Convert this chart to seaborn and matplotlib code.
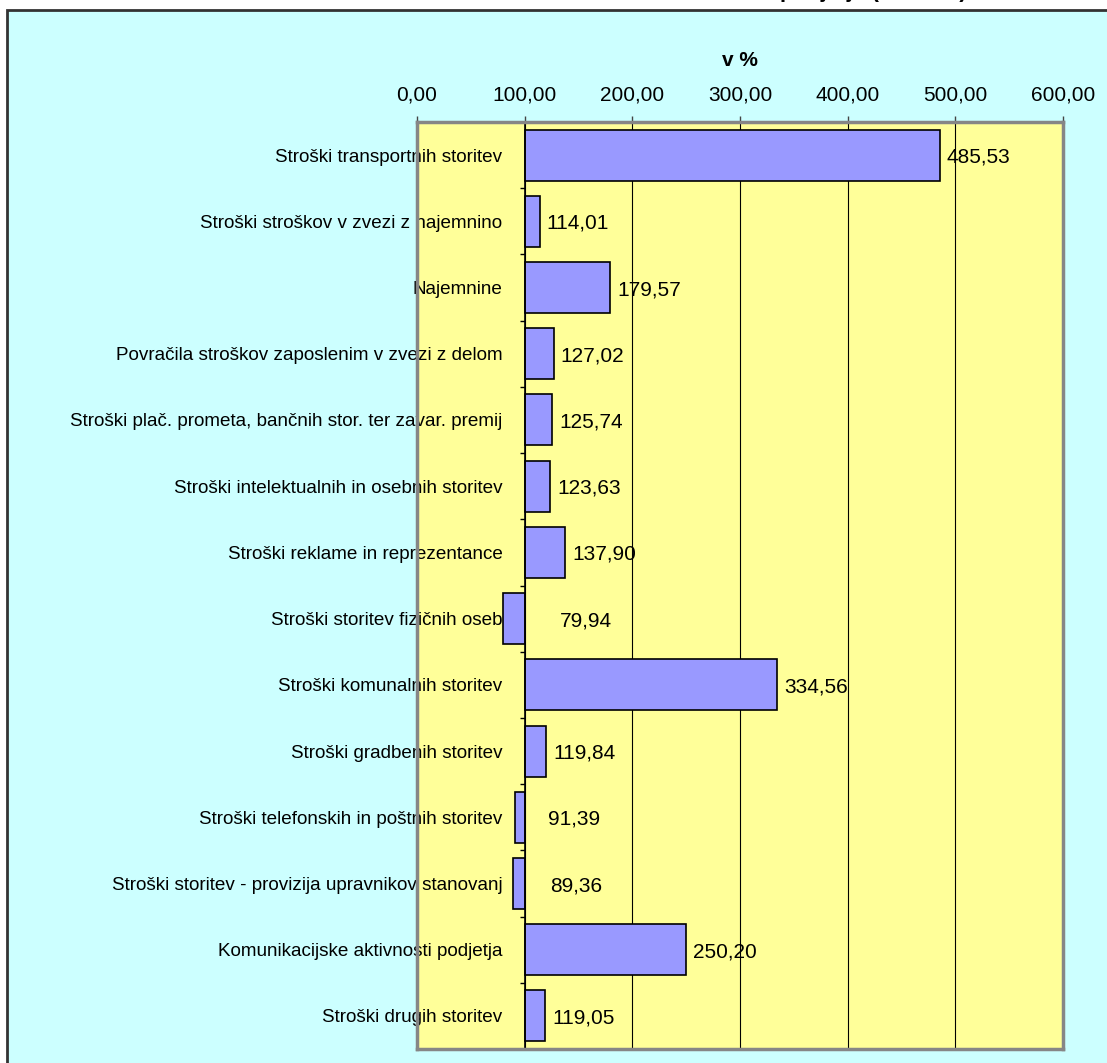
import numpy as np
import pandas as pd
import matplotlib
matplotlib.use("Agg")
import matplotlib.pyplot as plt
from matplotlib.patches import Rectangle
from matplotlib.ticker import FuncFormatter, FixedLocator
import seaborn as sns

# Index of service costs, base = 100
categories = [
    "Stroški transportnih storitev",
    "Stroški stroškov v zvezi z najemnino",
    "Najemnine",
    "Povračila stroškov zaposlenim v zvezi z delom",
    "Stroški plač. prometa, bančnih stor. ter zavar. premij",
    "Stroški intelektualnih in osebnih storitev",
    "Stroški reklame in reprezentance",
    "Stroški storitev fizičnih oseb",
    "Stroški komunalnih storitev",
    "Stroški gradbenih storitev",
    "Stroški telefonskih in poštnih storitev",
    "Stroški storitev - provizija upravnikov stanovanj",
    "Komunikacijske aktivnosti podjetja",
    "Stroški drugih storitev",
]
values = [485.53, 114.01, 179.57, 127.02, 125.74, 123.63, 137.90,
          79.94, 334.56, 119.84, 91.39, 89.36, 250.20, 119.05]
base = 100.0
x_ticks = [0, 100, 200, 300, 400, 500, 600]

plt.rcParams["font.family"] = ["Liberation Sans", "DejaVu Sans"]

W, H = 1107, 1063
fig = plt.figure(figsize=(W / 100, H / 100), dpi=100)
fig.patch.set_facecolor("white")

# cyan chart area, behind the axes
fig.patches.append(Rectangle((7 / W, -0.02), 1.05, 1 - 10 / H + 0.02,
                             transform=fig.transFigure, facecolor="#CCFFFF",
                             edgecolor="#333333", lw=2, zorder=-5))

# title line, mostly above the visible area
fig.text(967 / W, 1 + 3 / H, "podjetja (2008/07)", ha="right", va="baseline",
         fontsize=16, fontweight="bold", color="black")

ax = fig.add_axes([417 / W, 1 - 1049 / H, (1063 - 417) / W, (1049 - 122) / H])
ax.set_zorder(1)
ax.set_facecolor("#FFFF99")

# bars grow from the 100 line: plot the difference to the base
df = pd.DataFrame({"category": categories, "value": values})
df["delta"] = df["value"] - base

sns.barplot(data=df, x="delta", y="category", orient="h", color="#9999FF",
            saturation=1, edgecolor="black", linewidth=1.2, width=0.77,
            errorbar=None, ax=ax)

ax.set_xlim(x_ticks[0] - base, x_ticks[-1] - base)
ax.set_ylim(len(categories) - 0.5, -0.5)
ax.set_xlabel("")
ax.set_ylabel("")

# x axis on top with comma decimals
ax.xaxis.tick_top()
ax.xaxis.set_major_locator(FixedLocator([t - base for t in x_ticks]))
ax.xaxis.set_major_formatter(
    FuncFormatter(lambda x, pos: f"{x + base:.2f}".replace(".", ",")))
ax.tick_params(axis="x", which="major", length=4.3, width=1, color="#444444",
               labelsize=15, pad=8, direction="out")

# vertical gridlines under the bars
ax.set_axisbelow(True)
ax.xaxis.grid(True, color="black", lw=0.8)
ax.yaxis.grid(False)

# category axis at the 100 line
ax.spines["left"].set_position(("data", 0))
ax.spines["left"].set_color("black")
ax.spines["left"].set_linewidth(1.2)
for side in ["top", "right", "bottom"]:
    ax.spines[side].set_color("#868686")
    ax.spines[side].set_linewidth(2.5)
ax.axvline(x_ticks[0] - base, color="#868686", lw=2.5, clip_on=False, zorder=3)

ax.set_yticks(np.arange(-0.5, len(categories), 1), minor=True)
ax.tick_params(axis="y", which="major", length=0, pad=16, labelsize=13.6)
ax.tick_params(axis="y", which="minor", length=3.6, width=1, color="black",
               direction="out")
for lbl in ax.get_yticklabels():
    lbl.set_verticalalignment("center_baseline")

# value labels
for i, v in enumerate(values):
    label = f"{v:.2f}".replace(".", ",")
    if v >= base:
        ax.annotate(label, xy=(v - base, i), xytext=(5, -1.5),
                    textcoords="offset points", ha="left", va="center",
                    fontsize=15, color="black")
    else:
        ax.annotate(label, xy=(base - v, i), xytext=(10, -1.5),
                    textcoords="offset points", ha="left", va="center",
                    fontsize=15, color="black")

# axis title
fig.text(740 / W, 1 - 61 / H, "v %", ha="center", va="center",
         fontsize=15, fontweight="bold")

fig.savefig("out.png", dpi=100)
